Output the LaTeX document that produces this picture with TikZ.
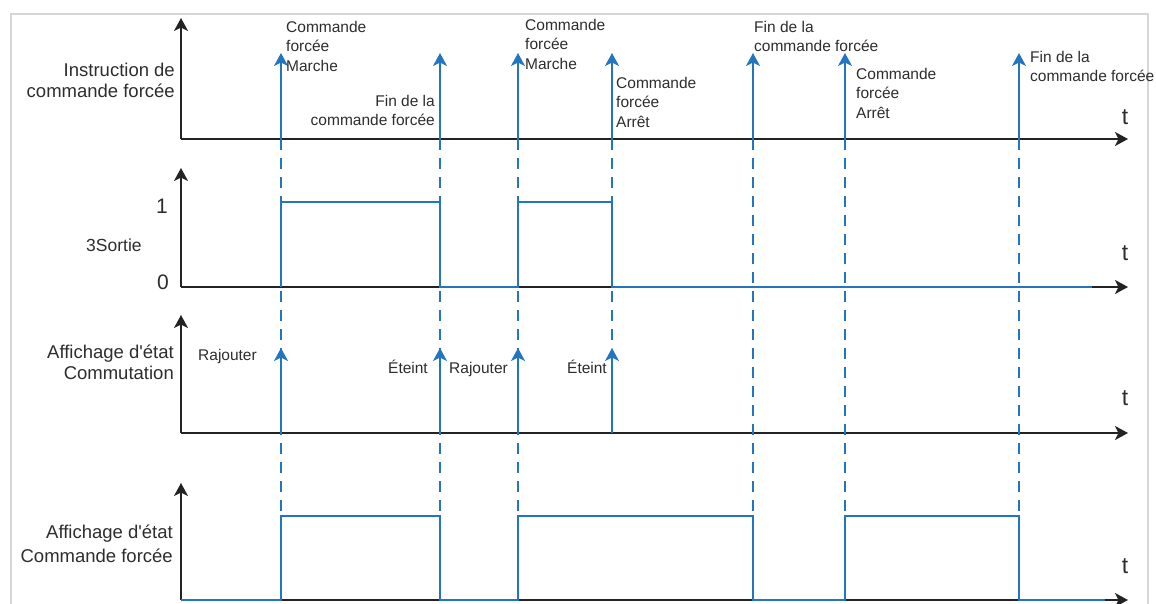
\documentclass[tikz,border=0pt]{standalone}
\usepackage{fontspec}
\setmainfont{Liberation Sans}[Ligatures=TeXOff]
\usepackage{xcolor}
\usetikzlibrary{arrows.meta,positioning}
\definecolor{sigblue}{RGB}{36,117,192}
\definecolor{axisdark}{RGB}{35,35,35}
\definecolor{txtdark}{RGB}{45,45,45}
\definecolor{framegray}{RGB}{214,214,214}

\begin{document}
\begin{tikzpicture}[x=1pt,y=-1pt]
\tikzset{ax/.style={draw=axisdark,line width=1.8pt,-{Stealth[length=13pt,width=14pt,inset=3.5pt]}},
  sig/.style={draw=sigblue,line width=1.6pt},
  ev/.style={sig,-{Stealth[length=13pt,width=14pt,inset=3.5pt]}},
  guide/.style={draw=sigblue,line width=1.1pt,dash pattern=on 11pt off 8pt},
  lbl/.style={inner sep=0pt,align=left,anchor=north west,text=txtdark,font=\fontsize{15.5}{19.5}\selectfont},
  ylbl/.style={inner sep=0pt,align=right,anchor=north east,text=txtdark,font=\fontsize{18.5}{21}\selectfont},
  tlbl/.style={inner sep=0pt,anchor=base,text=txtdark,font=\fontsize{23}{23}\selectfont}}
\useasboundingbox (0,0) rectangle (1156,603);
\draw[framegray,line width=2.6pt] (11,640) -- (11,14) -- (1148,14) -- (1148,640);
% axes of the four panels
\foreach \n/\y/\t in {1/139/18,2/287/168,3/433/315,4/600/483}{
  \coordinate (o\n) at (181,\y);
  \coordinate (top\n) at (181,\t);
  \coordinate (end\n) at (1128,\y);
}
\foreach \n in {1,...,4} \draw[ax] (o\n) -- (top\n);
\foreach \n in {1,...,4} \draw[ax] (o\n) -- (end\n);
% switching instants
\foreach \i/\x in {1/281,2/440,3/518,4/612,5/753,6/845,7/1019} \coordinate (e\i) at (\x,0);
\coordinate (p1) at (0,53);
\coordinate (hi2) at (0,202);
\coordinate (p3) at (0,348);
\coordinate (hi4) at (0,516);
\coordinate (s2end) at (1092,287);
\coordinate (s4end) at (1105,600);
\foreach \i in {1,2,3,5,6,7} \draw[guide] (e\i |- o1) -- (e\i |- hi4);
\draw[guide] (e4 |- o1) -- (e4 |- p3);
\foreach \i in {1,...,7} \draw[ev] (e\i |- o1) -- (e\i |- p1);
\foreach \i in {1,...,4} \draw[ev] (e\i |- o3) -- (e\i |- p3);
\draw[sig] (e1 |- o2) |- (e2 |- hi2) -- (e2 |- o2) -- (e3 |- o2) |- (e4 |- hi2) -- (e4 |- o2) -- (s2end);
\draw[sig] (o4) -- (e1 |- o4) |- (e2 |- hi4) -- (e2 |- o4) -- (e3 |- o4) |- (e5 |- hi4) -- (e5 |- o4)
  -- (e6 |- o4) |- (e7 |- hi4) -- (e7 |- o4) -- (s4end);
% panel texts
\node[ylbl] (instr) at (175,63) {Instruction de\\commande forcée};
\node[inner sep=0pt,anchor=base west,text=txtdark,font=\fontsize{17.5}{17.5}\selectfont] (sortie) at (86,251) {3Sortie};
\node[tlbl,font=\fontsize{21}{21}\selectfont] (one) at (162,213) {1};
\node[tlbl,font=\fontsize{21}{21}\selectfont] (zero) at (163,289) {0};
\node[ylbl] (commut) at (174,345) {Affichage d'état\\Commutation};
\node[ylbl,font=\fontsize{18.5}{24}\selectfont] (forced) at (173,525) {Affichage d'état\\Commande forcée};
\foreach \n/\y in {1/124,2/260,3/405,4/573} \node[tlbl] (t\n) at (1125,\y) {t};
% event texts
\node[lbl] (on1) at (286,21) {Commande\\forcée\\Marche};
\node[lbl,align=right,anchor=north east] (fin1) at (435,95) {Fin de la\\commande forcée};
\node[lbl] (on2) at (525,19) {Commande\\forcée\\Marche};
\node[lbl] (off1) at (616,77) {Commande\\forcée\\Arrêt};
\node[lbl] (fin2) at (754,21) {Fin de la\\commande forcée};
\node[lbl] (off2) at (856,68) {Commande\\forcée\\Arrêt};
\node[lbl] (fin3) at (1030,51) {Fin de la\\commande forcée};
\node[lbl,anchor=base west] (add1) at (198,360) {Rajouter};
\node[lbl,anchor=base east] (out1) at (428,373) {Éteint};
\node[lbl,anchor=base west] (add2) at (449,373) {Rajouter};
\node[lbl,anchor=base east] (out2) at (607,373) {Éteint};
\end{tikzpicture}
\end{document}
